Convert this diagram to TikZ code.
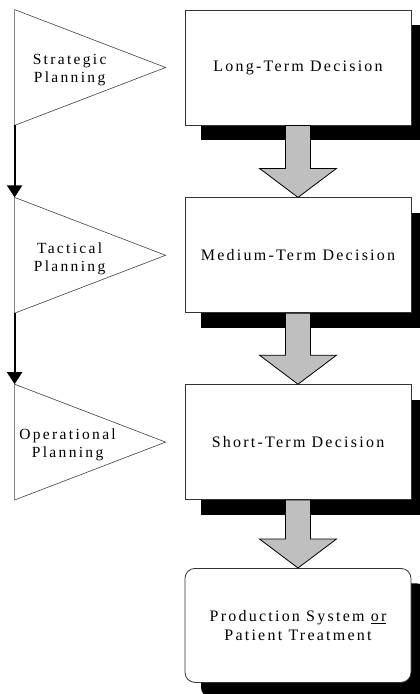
\documentclass[tikz,border=0pt]{standalone}
\usepackage{fontspec}
\setmainfont{Liberation Serif}
\newfontfamily\boxfont[LetterSpace=14]{Liberation Serif}
\newfontfamily\trifont[LetterSpace=15]{Liberation Serif}
\usepackage{tikz}
\usetikzlibrary{arrows.meta, positioning, calc, shadows}

\begin{document}
\begin{tikzpicture}[
    decision/.style = {rectangle, draw=black!80, line width=0.8pt, fill=white,
                       minimum width=226pt, minimum height=115pt, inner sep=0pt,
                       text centered, align=center,
                       font=\boxfont\fontsize{16pt}{19pt}\selectfont,
                       drop shadow={shadow xshift=16pt, shadow yshift=-15pt, fill=black, opacity=1}},
    outcome/.style  = {decision, rounded corners=10pt, minimum height=114pt},
    planning/.style = {draw=black!75, line width=0.6pt, fill=white},
    level/.style    = {align=center, inner sep=0pt, font=\trifont\fontsize{15.5pt}{18pt}\selectfont},
    bigarrow/.style = {draw=black, line width=0.8pt, fill=black!25},
    down/.style     = {-{Triangle[width=15pt,length=12pt]}, line width=2pt},
]
\useasboundingbox (0,0) rectangle (420pt,-694pt);

% ---- decision boxes ----
\node[decision] (long)   at (298pt,-67.5pt)     {Long-Term Decision};
\node[decision] (medium) [below=72pt of long]   {Medium-Term Decision};
\node[decision] (short)  [below=71pt of medium] {Short-Term Decision};
\node[outcome]  (prod)   [below=68pt of short]  {Production System \underline{or}\\Patient Treatment};

% ---- planning levels (triangles pointing at the boxes) ----
\foreach \b/\t in {long/strat, medium/tact, short/oper} {
  \coordinate (\t-top) at ($(\b.north west)+(-170pt,0)$);
  \coordinate (\t-bot) at ($(\b.south west)+(-170pt,0)$);
  \coordinate (\t-apex) at ($(\b.west)+(-19pt,0)$);
  \draw[planning] (\t-top) -- (\t-apex) -- (\t-bot) -- cycle;
}
\node[level] (stratlab) at ($(long.west)+(-115pt,-3pt)$)   {Strategic\\Planning};
\node[level] (tactlab)  at ($(medium.west)+(-115pt,-3pt)$) {Tactical\\Planning};
\node[level] (operlab)  at ($(short.west)+(-117pt,-3pt)$)  {Operational\\Planning};

% ---- block arrows between the levels ----
\foreach \a/\b in {long/medium, medium/short, short/prod}
  \draw[bigarrow] ($(\a.south)+(-12.5pt,0)$) -- ($(\b.north)+(-12.5pt,29pt)$)
      -- ($(\b.north)+(-38.5pt,29pt)$) -- (\b.north) -- ($(\b.north)+(38.5pt,29pt)$)
      -- ($(\b.north)+(12.5pt,29pt)$) -- ($(\a.south)+(12.5pt,0)$) -- cycle;

% ---- planning hierarchy ----
\draw[down] (strat-bot) -- (tact-top);
\draw[down] (tact-bot)  -- (oper-top);

\end{tikzpicture}
\end{document}
